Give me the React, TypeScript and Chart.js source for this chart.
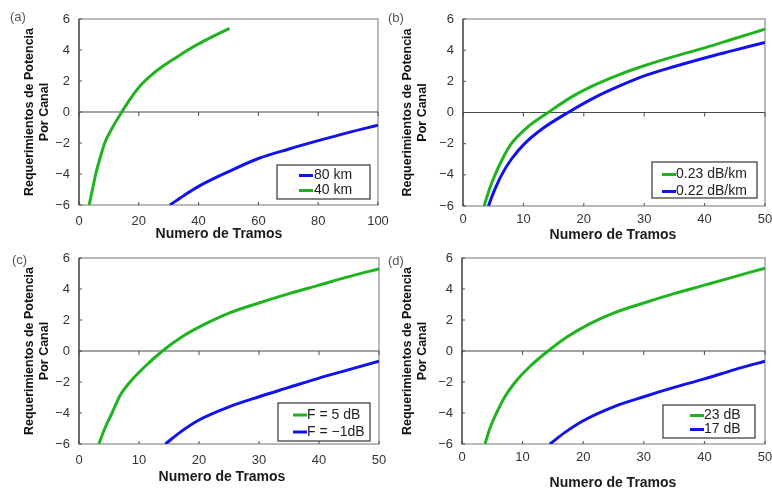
import { useEffect, useRef } from 'react';
import { Chart, registerables } from 'chart.js';

Chart.register(...registerables);

// ---------- tick labels ----------
const Y_TICKS = [-6, -4, -2, 0, 2, 4, 6];
const X_TICKS_A = [0, 20, 40, 60, 80, 100];
const X_TICKS_BCD = [0, 10, 20, 30, 40, 50];

// ---------- panel (a) ----------
const A_80KM_X = [30.4, 35, 40, 50, 60, 70, 80, 90, 100];
const A_80KM_Y = [-6, -5.4, -4.8, -3.85, -3.0, -2.4, -1.85, -1.33, -0.85];
const A_40KM_X = [3.4, 4.5, 5.6, 7, 8.6, 11.2, 14.3, 17.5, 20.5, 24, 28, 32, 36, 42, 50.3];
const A_40KM_Y = [-6, -5, -4, -3, -2, -1, 0, 0.95, 1.7, 2.35, 2.95, 3.45, 3.95, 4.6, 5.4];

// ---------- panel (b) ----------
const B_023_X = [3.5, 4.3, 5.3, 6.5, 8, 10.5, 14.1, 18, 22, 26, 30, 35, 40, 45, 50];
const B_023_Y = [-6, -5, -4, -3, -2, -1, 0, 1.0, 1.8, 2.45, 3.0, 3.6, 4.15, 4.75, 5.35];
const B_022_X = [4.2, 5.2, 6.4, 8, 10.2, 13.3, 17.4, 22, 26.5, 30, 35, 40, 45, 50];
const B_022_Y = [-6, -5, -4, -3, -2, -1, 0, 1.0, 1.8, 2.35, 2.95, 3.5, 4.0, 4.5];

// ---------- panel (c) ----------
const C_F5_X = [3.3, 4.3, 5.5, 6.8, 8.5, 11, 13.9, 17.5, 21.3, 25, 30, 35, 40, 45, 50];
const C_F5_Y = [-6, -5, -4, -2.9, -2, -1, 0, 1, 1.8, 2.45, 3.1, 3.7, 4.25, 4.8, 5.3];
const C_FM1_X = [14.4, 17, 20, 25, 30, 35, 40, 45, 50];
const C_FM1_Y = [-6, -5.2, -4.45, -3.6, -2.95, -2.35, -1.75, -1.2, -0.65];

// ---------- panel (d) ----------
const D_23_X = [3.8, 4.6, 5.7, 7, 8.8, 11.2, 14.2, 17.5, 21.3, 25, 30, 35, 40, 45, 50];
const D_23_Y = [-6, -5, -4, -3, -2, -1, 0, 0.95, 1.8, 2.45, 3.1, 3.7, 4.25, 4.8, 5.35];
const D_17_X = [14.5, 17, 20, 25, 30, 35, 40, 45, 50];
const D_17_Y = [-6, -5.25, -4.5, -3.6, -2.95, -2.35, -1.8, -1.2, -0.65];

const GREEN = '#20b320';
const BLUE = '#1212ee';
const FONT = "'Liberation Sans', Arial, Helvetica, sans-serif";
const W = 772;
const H = 489;
const Y_AXIS_W = 73;
const X_AXIS_H = 30;

type Series = { name: string; color: string; xs: number[]; ys: number[] };
type Panel = {
  tag: string;
  xMax: number;
  xTicks: number[];
  series: Series[];
  area: [number, number, number, number];
  yTitlePad: number;
  xTickPad: number;
  xTitle: [number, number];
  tagPos: [number, number];
  legend: { box: [number, number, number, number]; rows: number[]; sample: [number, number]; textX: number };
};

const PANELS: Panel[] = [
  {
    tag: '(a)', xMax: 100, xTicks: X_TICKS_A,
    series: [
      { name: '80 km', color: BLUE, xs: A_80KM_X, ys: A_80KM_Y },
      { name: '40 km', color: GREEN, xs: A_40KM_X, ys: A_40KM_Y },
    ],
    area: [79, 19, 378, 205], yTitlePad: 16.5, xTickPad: 9, xTitle: [219, 234.5], tagPos: [10, 17],
    legend: { box: [277, 165, 370, 199], rows: [175.5, 190.5], sample: [299, 313], textX: 314 },
  },
  {
    tag: '(b)', xMax: 50, xTicks: X_TICKS_BCD,
    series: [
      { name: '0.23 dB/km', color: GREEN, xs: B_023_X, ys: B_023_Y },
      { name: '0.22 dB/km', color: BLUE, xs: B_022_X, ys: B_022_Y },
    ],
    area: [463, 19, 765, 206], yTitlePad: 10.5, xTickPad: 6, xTitle: [613, 235], tagPos: [388, 18],
    legend: { box: [652, 162, 757, 198], rows: [174.5, 191.5], sample: [662, 676], textX: 676 },
  },
  {
    tag: '(c)', xMax: 50, xTicks: X_TICKS_BCD,
    series: [
      { name: 'F = 5 dB', color: GREEN, xs: C_F5_X, ys: C_F5_Y },
      { name: 'F = \u22121dB', color: BLUE, xs: C_FM1_X, ys: C_FM1_Y },
    ],
    area: [79, 258, 379, 444], yTitlePad: 16.5, xTickPad: 9, xTitle: [222, 477.5], tagPos: [12, 260],
    legend: { box: [278, 403, 370, 441], rows: [415, 432], sample: [293, 307], textX: 307 },
  },
  {
    tag: '(d)', xMax: 50, xTicks: X_TICKS_BCD,
    series: [
      { name: '23 dB', color: GREEN, xs: D_23_X, ys: D_23_Y },
      { name: '17 dB', color: BLUE, xs: D_17_X, ys: D_17_Y },
    ],
    area: [462, 258, 765, 444], yTitlePad: 11.5, xTickPad: 6, xTitle: [613, 483], tagPos: [388, 261],
    legend: { box: [663, 405, 755, 438], rows: [415.5, 429.5], sample: [690, 704], textX: 704 },
  },
];

function fmt(v: number | string) {
  return String(v).replace('-', '\u2212');
}

function makeDecor(p: Panel) {
  return {
    id: 'decor',
    beforeDatasetsDraw(chart: any) {
      const { ctx, chartArea: a, scales } = chart;
      const xs = scales.x;
      const ys = scales.y;
      const seg = (x1: number, y1: number, x2: number, y2: number) => {
        ctx.beginPath();
        ctx.moveTo(x1, y1);
        ctx.lineTo(x2, y2);
        ctx.stroke();
      };
      ctx.save();
      ctx.strokeStyle = '#8c8c8c';
      ctx.lineWidth = 1.2;
      ctx.strokeRect(a.left, a.top, a.right - a.left, a.bottom - a.top);
      ctx.strokeStyle = '#555';
      ctx.lineWidth = 1.5;
      seg(a.left, a.top, a.left, a.bottom);
      const y0 = ys.getPixelForValue(0);
      ctx.strokeStyle = '#4a4a4a';
      ctx.lineWidth = 1.2;
      seg(a.left, y0, a.right, y0);
      ctx.lineWidth = 1;
      p.xTicks.forEach((t) => {
        const px = xs.getPixelForValue(t);
        seg(px, y0, px, y0 + 4);
        seg(px, a.bottom, px, a.bottom - 3);
      });
      Y_TICKS.forEach((t) => {
        const py = ys.getPixelForValue(t);
        seg(a.left, py, a.left + 3, py);
      });
      ctx.restore();
    },
    afterDatasetsDraw(chart: any) {
      const { ctx } = chart;
      const L = p.legend;
      ctx.save();
      ctx.fillStyle = '#fff';
      ctx.fillRect(L.box[0], L.box[1], L.box[2] - L.box[0], L.box[3] - L.box[1]);
      ctx.strokeStyle = '#444';
      ctx.lineWidth = 1.3;
      ctx.strokeRect(L.box[0], L.box[1], L.box[2] - L.box[0], L.box[3] - L.box[1]);
      chart.data.datasets.forEach((ds: any, i: number) => {
        const ry = L.rows[i];
        ctx.strokeStyle = ds.borderColor;
        ctx.lineWidth = 3;
        ctx.beginPath();
        ctx.moveTo(L.sample[0], ry);
        ctx.lineTo(L.sample[1], ry);
        ctx.stroke();
        ctx.fillStyle = '#222';
        ctx.font = `14px ${FONT}`;
        ctx.textAlign = 'left';
        ctx.textBaseline = 'middle';
        ctx.fillText(ds.label, L.textX, ry);
      });
      ctx.restore();
    },
    afterDraw(chart: any) {
      const { ctx } = chart;
      ctx.save();
      ctx.fillStyle = '#1a1a1a';
      ctx.font = `bold 14px ${FONT}`;
      ctx.textAlign = 'center';
      ctx.textBaseline = 'middle';
      ctx.fillText('Numero de Tramos', p.xTitle[0], p.xTitle[1]);
      ctx.fillStyle = '#555';
      ctx.font = `13px ${FONT}`;
      ctx.textAlign = 'left';
      ctx.fillText(p.tag, p.tagPos[0], p.tagPos[1]);
      ctx.restore();
    },
  };
}

function PanelChart({ p }: { p: Panel }) {
  const ref = useRef<HTMLCanvasElement | null>(null);
  useEffect(() => {
    if (!ref.current) return;
    const [L, T, R, B] = p.area;
    const chart = new Chart(ref.current, {
      type: 'line',
      data: {
        datasets: p.series.map((s) => ({
          label: s.name,
          data: s.xs.map((x, i) => ({ x, y: s.ys[i] })),
          borderColor: s.color,
          backgroundColor: s.color,
          borderWidth: 3,
          pointRadius: 0,
          cubicInterpolationMode: 'monotone' as const,
          fill: false,
        })),
      },
      options: {
        responsive: false,
        animation: false,
        devicePixelRatio: 1,
        layout: { padding: { left: L - Y_AXIS_W, top: T, right: W - R, bottom: H - B - X_AXIS_H } },
        plugins: { legend: { display: false }, tooltip: { enabled: false } },
        scales: {
          x: {
            type: 'linear',
            min: 0,
            max: p.xMax,
            grid: { display: false, drawTicks: false },
            border: { display: false },
            ticks: { padding: p.xTickPad, color: '#333', font: { size: 13, family: FONT }, maxRotation: 0 },
            afterBuildTicks: (s: any) => { s.ticks = p.xTicks.map((v) => ({ value: v })); },
            afterFit: (s: any) => { s.height = X_AXIS_H; s.paddingLeft = 0; s.paddingRight = 0; },
          },
          y: {
            type: 'linear',
            min: -6,
            max: 6,
            grid: { display: false, drawTicks: false },
            border: { display: false },
            ticks: { padding: 9, color: '#333', font: { size: 13, family: FONT }, callback: (v: any) => fmt(v) },
            afterBuildTicks: (s: any) => { s.ticks = Y_TICKS.map((v) => ({ value: v })); },
            afterFit: (s: any) => { s.width = Y_AXIS_W; s.paddingTop = 0; s.paddingBottom = 0; },
            title: {
              display: true,
              text: ['Requerimientos de Potencia', 'Por Canal'],
              color: '#111',
              font: { size: 12.5, weight: 'bold', family: FONT, lineHeight: 1.2 },
              padding: { top: p.yTitlePad, bottom: 0 },
            },
          },
        },
      },
      plugins: [makeDecor(p)],
    } as any);
    return () => chart.destroy();
  }, [p]);
  return (
    <canvas
      ref={ref}
      width={W}
      height={H}
      style={{ position: 'absolute', left: 0, top: 0, width: W, height: H }}
    />
  );
}

export default function App() {
  return (
    <div style={{ position: 'fixed', left: 0, top: 0, width: W, height: H, background: '#fff' }}>
      {PANELS.map((p) => (
        <PanelChart key={p.tag} p={p} />
      ))}
    </div>
  );
}
